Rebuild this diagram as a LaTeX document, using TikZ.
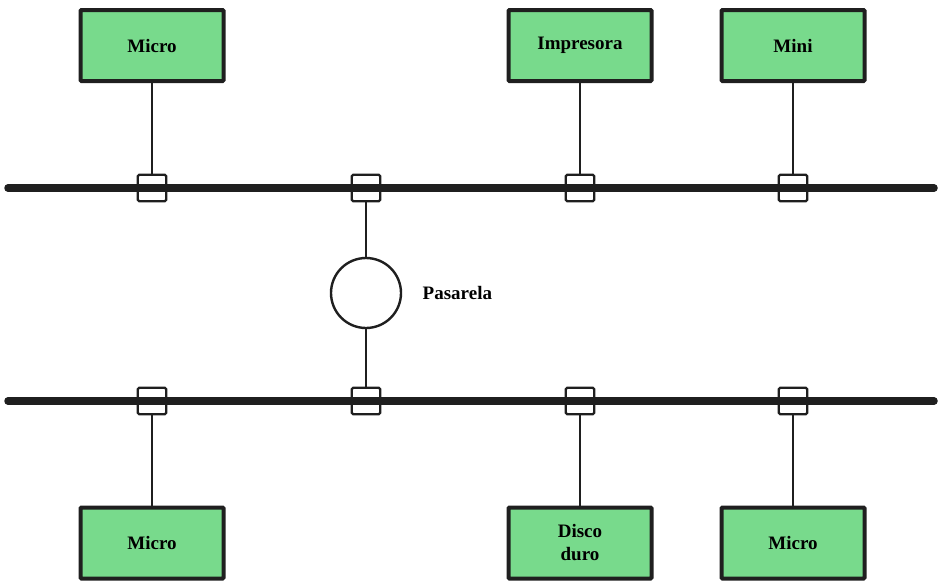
\documentclass[tikz,border=0pt]{standalone}
\usepackage{fontspec}
\setmainfont{Liberation Serif}
\usetikzlibrary{positioning}
\begin{document}
\begin{tikzpicture}[x=1pt,y=-1pt]
\colorlet{ink}{black!88}
\definecolor{equipo}{RGB}{120,218,140}
\tikzset{host/.style={draw=ink,fill=equipo,line width=4pt,minimum width=143pt,minimum height=71pt,rounded corners=1pt,
                      inner sep=0pt,align=center,font=\fontsize{19}{23}\selectfont\bfseries},
         tap/.style={draw=ink,line width=2.4pt,minimum width=28.5pt,minimum height=26.5pt,inner sep=0pt,rounded corners=1.5pt},
         bus/.style={ink,line width=7.5pt,line cap=round},
         drop/.style={ink,line width=2.4pt}}
\useasboundingbox (0,0) rectangle (940,581);

% the two buses
\coordinate (busA-w) at (8,188);  \coordinate (busA-e) at (934,188);
\coordinate (busB-w) at (8,401);  \coordinate (busB-e) at (934,401);
\draw[bus] (busA-w) -- (busA-e);
\draw[bus] (busB-w) -- (busB-e);

% taps on both buses
\foreach \n/\x in {1/152,2/366,3/580,4/793}
{
    \node[tap] (ta\n) at (\x,188) {};
    \node[tap] (tb\n) at (\x,401) {};
}

% stations on the upper bus
\node[host] (microA) at (152,45.5) {Micro};
\node[host] (impresora) at (580,45.5) {Impresora};
\node[host] (mini) at (793,45.5) {Mini};

% stations on the lower bus
\node[host] (microB) at (152,543) {Micro};
\node[host] (disco) at (580,543) {Disco\\duro};
\node[host] (microC) at (793,543) {Micro};

% the gateway
\node[circle,draw=ink,line width=2.4pt,minimum size=70pt,inner sep=0pt] (pasarela) at (366,293) {};
\node[right=17pt of pasarela,font=\fontsize{19}{23}\selectfont\bfseries] (pasarela-txt) {Pasarela};

% drops
\foreach \a/\b in {microA/ta1, impresora/ta3, mini/ta4, ta2/pasarela, pasarela/tb2, tb1/microB, tb3/disco, tb4/microC}
    \draw[drop] (\a) -- (\b);
\end{tikzpicture}
\end{document}
